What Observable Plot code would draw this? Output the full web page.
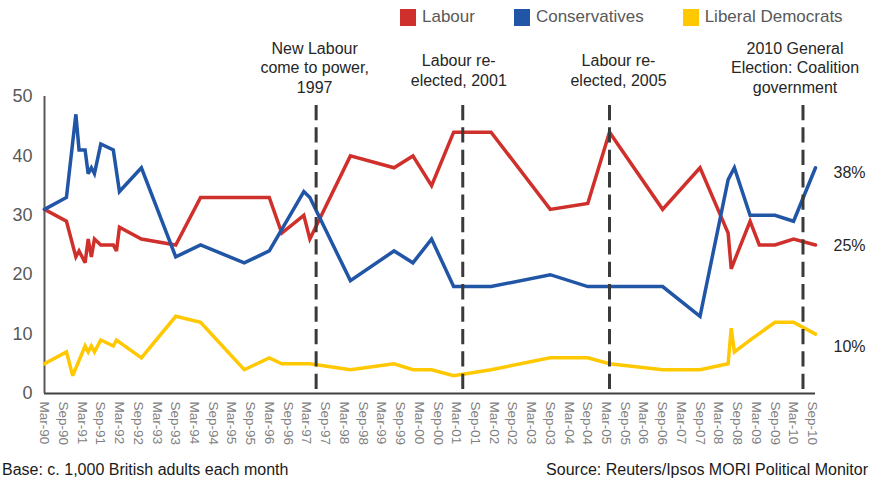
<!DOCTYPE html>
<html><head><meta charset="utf-8">
<script src="https://cdn.jsdelivr.net/npm/d3@7"></script>
<script src="https://cdn.jsdelivr.net/npm/@observablehq/plot@0.6"></script>
<style>
body{margin:0;background:#fff;font-family:"Liberation Sans",Arial,sans-serif;}
#wrap{position:relative;width:870px;height:481px;overflow:hidden;}
#chart svg{display:block;}
#legend{position:absolute;top:7px;left:400px;display:flex;align-items:center;font-size:17px;color:#595959;white-space:nowrap;}
.item{display:flex;align-items:center;margin-right:39px;}
.sw{width:16px;height:17px;margin-right:6px;}
.foot{position:absolute;top:461px;font-size:16px;color:#1a1a1a;white-space:nowrap;}
</style></head>
<body>
<div id="wrap">
  <div id="chart"></div>
  <div id="legend"></div>
  <div class="foot" style="left:2px">Base: c. 1,000 British adults each month</div>
  <div class="foot" style="right:2px">Source: Reuters/Ipsos MORI Political Monitor</div>
</div>
<script>
// ---- data ----
const months = ["1990-03","1990-10","1990-12","1991-01","1991-02","1991-04","1991-05","1991-06","1991-07","1991-09",
  "1992-01","1992-02","1992-03","1992-10","1993-09","1994-05","1995-07","1996-03","1996-07","1997-02",
  "1997-04","1998-05","1999-07","2000-01","2000-07","2001-02","2002-02","2003-09","2004-09","2005-04",
  "2006-09","2007-09","2008-06","2008-07","2008-08","2009-01","2009-04","2009-09","2010-03","2010-10"];
const labour =        [31,29,null,23,24,22,26,23,26,25, 25,24,28,26,25,33,33,33,27,30, 26,40,38,40,35,44,44,31,32,44, 31,38,27,21,null,29,25,25,26,25];
const conservatives = [31,33,null,47,41,41,37,38,37,42, 41,null,34,38,23,25,22,24,null,34, 33,19,24,22,26,18,18,20,18,18, 18,13,36,null,38,30,30,30,29,38];
const libdems =       [5,7,3,null,null,8,7,8,7,9, 8,9,null,6,13,12,4,6,5,5, 5,4,5,4,4,3,4,6,6,5, 4,4,5,11,7,9,null,12,12,10];
const parties = ["Labour","Conservatives","Liberal Democrats"];
const partyColors = ["#d0302b","#2155a5","#ffc800"];
const tickLabels = ["Mar-90","Sep-90","Mar-91","Sep-91","Mar-92","Sep-92","Mar-93","Sep-93","Mar-94","Sep-94",
  "Mar-95","Sep-95","Mar-96","Sep-96","Mar-97","Sep-97","Mar-98","Sep-98","Mar-99","Sep-99",
  "Mar-00","Sep-00","Mar-01","Sep-01","Mar-02","Sep-02","Mar-03","Sep-03","Mar-04","Sep-04",
  "Mar-05","Sep-05","Mar-06","Sep-06","Mar-07","Sep-07","Mar-08","Sep-08","Mar-09","Sep-09",
  "Mar-10","Sep-10"];
const yTicks = [0,10,20,30,40,50];
const electionMonths = ["1997-06","2001-05","2005-04","2010-06"];
const electionLabels = ["New Labour\ncome to power,\n1997","Labour re-\nelected, 2001","Labour re-\nelected, 2005","2010 General\nElection: Coalition\ngovernment"];

// ---- build ----
const parse = d3.utcParse("%Y-%m");
const parseTick = d3.utcParse("%b-%y");
const fmtTick = d3.utcFormat("%b-%y");
const seriesVals = [labour, conservatives, libdems];
const rows = [];
parties.forEach((p, k) => seriesVals[k].forEach((v, i) => {
  if (v != null) rows.push({party: p, date: parse(months[i]), value: v});
}));
const tickDates = tickLabels.map(parseTick);
const lastDate = parse(months[months.length - 1]);
const firstDate = parse(months[0]);
const endLabels = parties.map((p, k) => ({party: p, date: lastDate, value: seriesVals[k][seriesVals[k].length - 1]}));
const elections = electionMonths.map((m, i) => ({date: parse(m), label: electionLabels[i], lines: electionLabels[i].split("\n").length}));

const endDy = [1, 5.5, 12.5];      // Labour, Conservatives, Lib Dems label nudges
const annDx = [-1.5, -4, 9, -8];

const chart = Plot.plot({
  width: 870,
  height: 481,
  marginTop: 96,
  marginBottom: 88,
  marginLeft: 44,
  marginRight: 55,
  style: {fontFamily: "'Liberation Sans', Arial, sans-serif", background: "#fff"},
  x: {type: "utc", domain: [firstDate, lastDate]},
  y: {domain: [0, 50]},
  color: {domain: parties, range: partyColors},
  marks: [
    Plot.axisY({ticks: yTicks, tickSize: 0, tickPadding: 12, fontSize: 18, color: "#595959", label: null}),
    Plot.axisX({ticks: tickDates, tickFormat: fmtTick, tickRotate: 90, tickSize: 0, tickPadding: 8, fontSize: 13.5, color: "#808080", label: null}),
    Plot.ruleY([0], {stroke: "#404040", strokeWidth: 2}),
    Plot.ruleX([firstDate], {y1: 0, y2: 50, stroke: "#595959", strokeWidth: 2}),
    Plot.lineY(rows, {x: "date", y: "value", z: "party", stroke: "party", strokeWidth: 3.5, strokeLinejoin: "miter", strokeMiterlimit: 3}),
    Plot.ruleX(elections, {x: "date", y1: 48.5, y2: 0, stroke: "#3a3a3a", strokeWidth: 3, strokeDasharray: "15.3,7.1"}),
    ...elections.map((e, i) => Plot.text([e], {
      x: "date", frameAnchor: "top", text: "label", lineAnchor: "bottom", lineHeight: 1.2,
      dy: e.lines === 3 ? -4 : -11, dx: annDx[i], fontSize: 16, fill: "#262626", textAnchor: "middle"
    })),
    ...endLabels.map((d, k) => Plot.text([d], {
      x: "date", y: "value", text: d => `${d.value}%`, dx: 18, dy: endDy[k], textAnchor: "start", fontSize: 16, fill: "#262626"
    }))
  ]
});
document.getElementById("chart").appendChild(chart);

const legend = document.getElementById("legend");
parties.forEach((p, k) => {
  const item = document.createElement("div");
  item.className = "item";
  const sw = document.createElement("div");
  sw.className = "sw";
  sw.style.background = partyColors[k];
  const t = document.createElement("span");
  t.textContent = p;
  item.appendChild(sw); item.appendChild(t);
  legend.appendChild(item);
});
</script>
</body></html>
